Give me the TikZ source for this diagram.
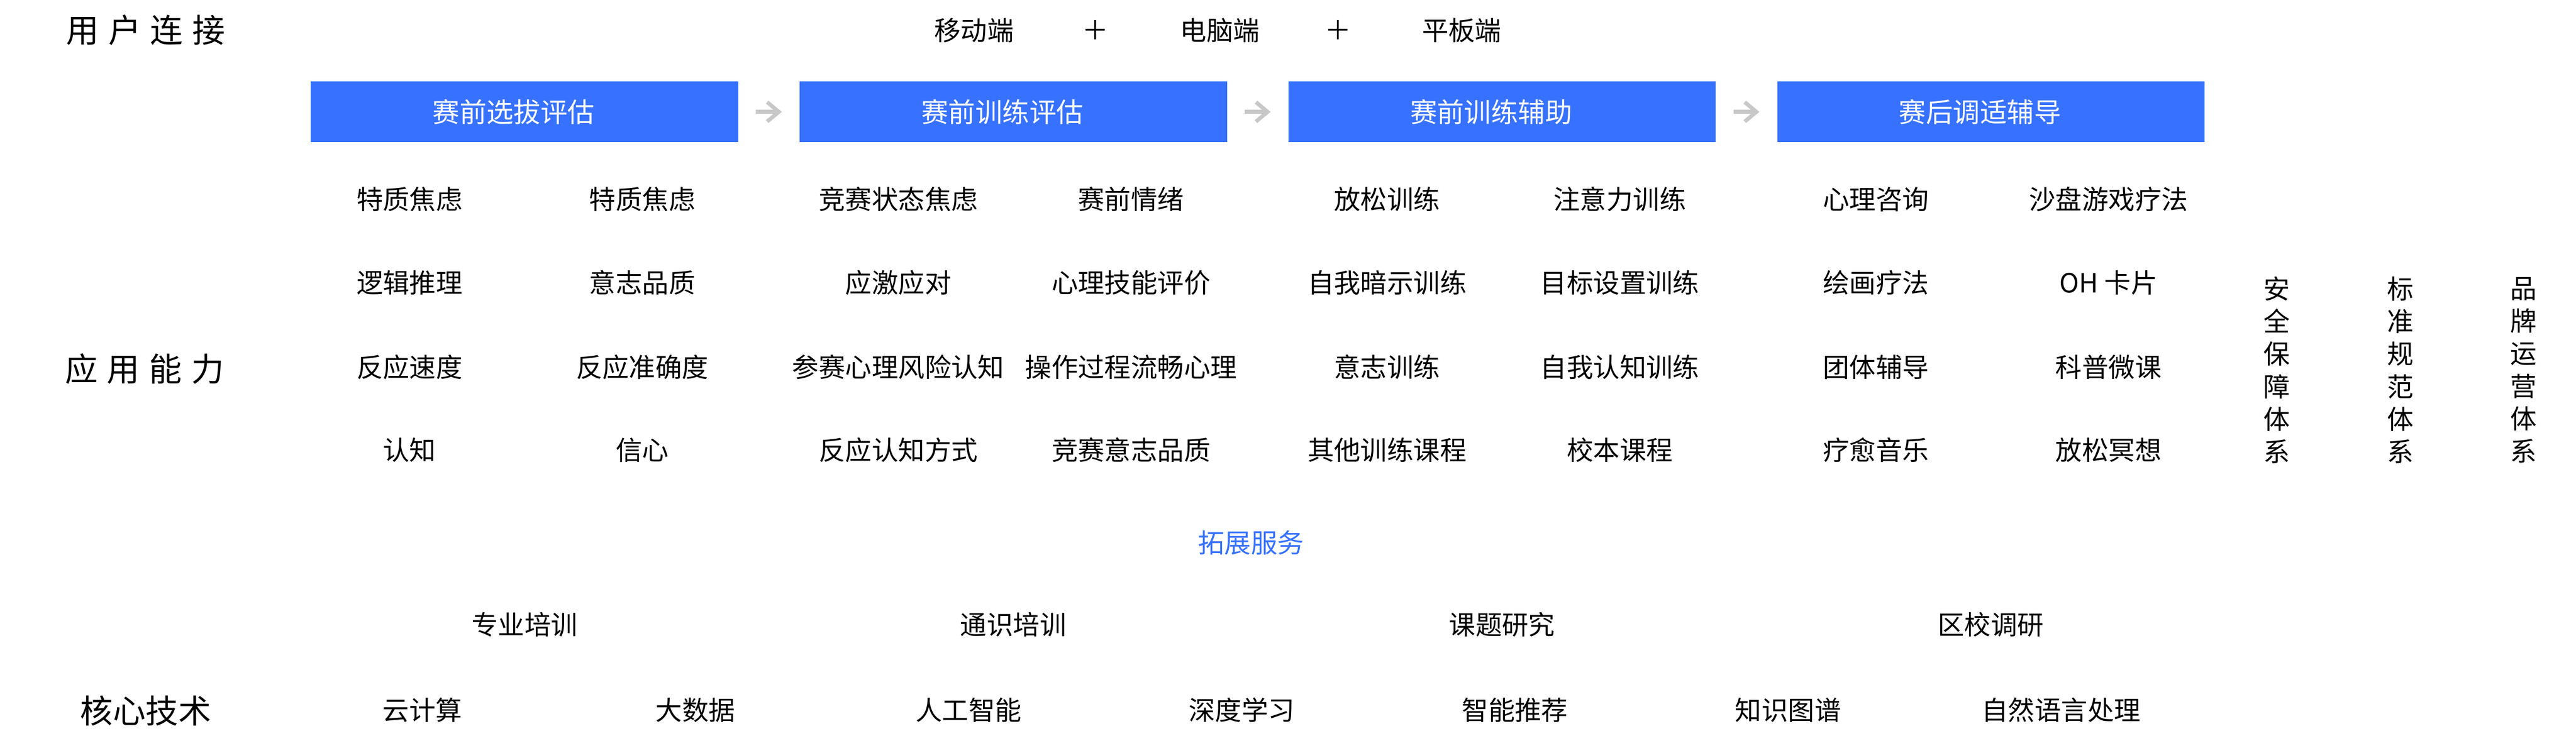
\documentclass[tikz,border=0pt]{standalone}
\usepackage{fontspec}
\setmainfont{Noto Sans CJK SC}
\usetikzlibrary{positioning,arrows.meta}
\definecolor{stageblue}{RGB}{54,113,255}
\definecolor{arrowgray}{RGB}{200,200,200}
\newcommand{\hgap}{\hspace{0.24cm}}

\begin{document}
\begin{tikzpicture}[
	item/.style={inner sep=0pt, font=\fontsize{19.4}{23}\selectfont},
	heading/.style={inner sep=0pt, font=\fontsize{24}{28}\selectfont},
	stage/.style={fill=stageblue, text=white, minimum width=11cm, minimum height=1.56cm, inner sep=0pt, font=\fontsize{19.8}{23}\selectfont, execute at end node={\hspace{0.56cm}}},
	system/.style={inner sep=0pt, align=center, font=\fontsize{19.4}{23.9}\selectfont},
	flow/.style={draw=arrowgray, line width=0.1cm, -{Straight Barb[sharp,length=0.3cm,width=0.5cm]}, shorten <=0.45cm, shorten >=0.45cm}
]
	\useasboundingbox (0,0) rectangle (66.30,-19.07);

	% User connection
	\node [heading] (user) at (3.75,-0.78) {用\hgap 户\hgap 连\hgap 接};
	\node [item] (mobile) at (25.07,-0.78) {移动端};
	\node [item] (plus1) at (28.19,-0.78) {＋};
	\node [item] (pc) at (31.40,-0.78) {电脑端};
	\node [item] (plus2) at (34.44,-0.78) {＋};
	\node [item] (pad) at (37.62,-0.78) {平板端};

	% Stages
	\node [stage] (stage1) at (13.50,-2.88) {赛前选拔评估};
	\node [stage] (stage2) at (26.08,-2.88) {赛前训练评估};
	\node [stage] (stage3) at (38.66,-2.88) {赛前训练辅助};
	\node [stage] (stage4) at (51.24,-2.88) {赛后调适辅导};

	\draw [flow] (stage1) -- (stage2);
	\draw [flow] (stage2) -- (stage3);
	\draw [flow] (stage3) -- (stage4);

	% Application ability
	\node [heading] (apply) at (3.72,-9.50) {应\hgap 用\hgap 能\hgap 力};

	\node [item] (a11) at (10.54,-5.13) {特质焦虑};
	\node [item] (a12) at (16.53,-5.13) {特质焦虑};
	\node [item] (a21) at (10.54,-7.28) {逻辑推理};
	\node [item] (a22) at (16.53,-7.28) {意志品质};
	\node [item] (a31) at (10.54,-9.45) {反应速度};
	\node [item] (a32) at (16.53,-9.45) {反应准确度};
	\node [item] (a41) at (10.54,-11.59) {认知};
	\node [item] (a42) at (16.53,-11.59) {信心};

	\node [item] (b11) at (23.12,-5.13) {竞赛状态焦虑};
	\node [item] (b12) at (29.11,-5.13) {赛前情绪};
	\node [item] (b21) at (23.12,-7.28) {应激应对};
	\node [item] (b22) at (29.11,-7.28) {心理技能评价};
	\node [item] (b31) at (23.12,-9.45) {参赛心理风险认知};
	\node [item] (b32) at (29.11,-9.45) {操作过程流畅心理};
	\node [item] (b41) at (23.12,-11.59) {反应认知方式};
	\node [item] (b42) at (29.11,-11.59) {竞赛意志品质};

	\node [item] (c11) at (35.70,-5.13) {放松训练};
	\node [item] (c12) at (41.69,-5.13) {注意力训练};
	\node [item] (c21) at (35.70,-7.28) {自我暗示训练};
	\node [item] (c22) at (41.69,-7.28) {目标设置训练};
	\node [item] (c31) at (35.70,-9.45) {意志训练};
	\node [item] (c32) at (41.69,-9.45) {自我认知训练};
	\node [item] (c41) at (35.70,-11.59) {其他训练课程};
	\node [item] (c42) at (41.69,-11.59) {校本课程};

	\node [item] (d11) at (48.28,-5.13) {心理咨询};
	\node [item] (d12) at (54.27,-5.13) {沙盘游戏疗法};
	\node [item] (d21) at (48.28,-7.28) {绘画疗法};
	\node [item] (d22) at (54.27,-7.28) {OH 卡片};
	\node [item] (d31) at (48.28,-9.45) {团体辅导};
	\node [item] (d32) at (54.27,-9.45) {科普微课};
	\node [item] (d41) at (48.28,-11.59) {疗愈音乐};
	\node [item] (d42) at (54.27,-11.59) {放松冥想};

	% Systems on the right
	\node [system] (safety) at (58.60,-9.53) {安\\全\\保\\障\\体\\系};
	\node [system] (norm) at (61.78,-9.53) {标\\准\\规\\范\\体\\系};
	\node [system] (brand) at (64.95,-9.53) {品\\牌\\运\\营\\体\\系};

	% Extended services
	\node [item, text=stageblue] (extend) at (32.20,-13.98) {拓展服务};
	\node [item] (train1) at (13.50,-16.08) {专业培训};
	\node [item] (train2) at (26.08,-16.08) {通识培训};
	\node [item] (research) at (38.66,-16.08) {课题研究};
	\node [item] (survey) at (51.24,-16.08) {区校调研};

	% Core technology
	\node [heading] (core) at (3.75,-18.30) {核心技术};
	\node [item] (tech1) at (10.87,-18.28) {云计算};
	\node [item] (tech2) at (17.90,-18.28) {大数据};
	\node [item] (tech3) at (24.93,-18.28) {人工智能};
	\node [item] (tech4) at (31.96,-18.28) {深度学习};
	\node [item] (tech5) at (38.99,-18.28) {智能推荐};
	\node [item] (tech6) at (46.02,-18.28) {知识图谱};
	\node [item] (tech7) at (53.05,-18.28) {自然语言处理};
\end{tikzpicture}
\end{document}
